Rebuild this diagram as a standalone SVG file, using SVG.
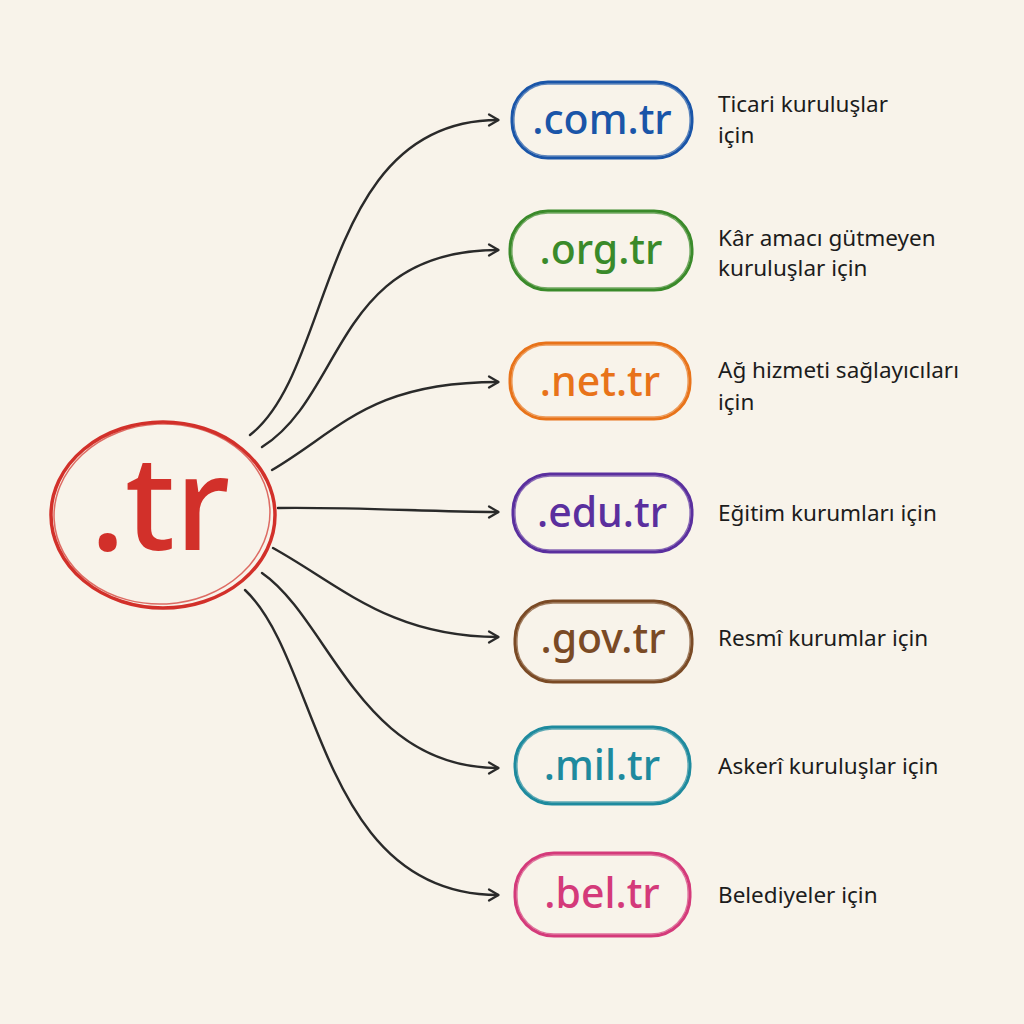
<svg xmlns="http://www.w3.org/2000/svg" width="1024" height="1024" viewBox="0 0 1024 1024">
<defs>
<marker id="arr" markerWidth="14" markerHeight="14" refX="11" refY="7" orient="auto" markerUnits="userSpaceOnUse">
<path d="M2,1.5 L11.5,7 L2,12.5" fill="none" stroke="#2a2a2a" stroke-width="2.2" stroke-linecap="round" stroke-linejoin="round"/>
</marker>
<style>
.conn{fill:none;stroke:#2a2a2a;stroke-width:2.4;stroke-linecap:round;marker-end:url(#arr)}
.pill{fill:none;stroke-width:3}
.pill2{fill:none;stroke-width:1.3;opacity:0.7}
.lbl{font-family:"Noto Sans","Open Sans",sans-serif;font-size:41px;font-weight:500;text-anchor:middle}
.desc{font-family:"Noto Sans","Open Sans",sans-serif;font-size:22.5px;fill:#1c1c1c}
</style>
</defs>
<rect width="1024" height="1024" fill="#f8f3ea"/>

<g id="connectors">
<path class="conn" d="M250,435 C335,370 320,120 498,120"/>
<path class="conn" d="M262,447 C345,395 335,250 498,250"/>
<path class="conn" d="M272,470 C340,430 370,382 498,382"/>
<path class="conn" d="M278,508 C360,507 430,512 498,512"/>
<path class="conn" d="M273,548 C340,585 390,637 498,637"/>
<path class="conn" d="M262,573 C330,620 360,768 498,768"/>
<path class="conn" d="M245,590 C320,660 320,895 498,895"/>
</g>

<g id="node-tr">
<ellipse cx="163" cy="515" rx="112" ry="93" fill="none" stroke="#d2302a" stroke-width="3.5"/>
<ellipse cx="162" cy="514" rx="108" ry="90" fill="none" stroke="#d2302a" stroke-width="1.5" opacity="0.7" transform="rotate(-3 162 514)"/>
<text x="160" y="550" font-family="Noto Sans, Open Sans, sans-serif" font-size="130" font-weight="500" fill="#d2302a" text-anchor="middle">.tr</text>
</g>

<g id="node-com">
<rect class="pill" x="512" y="82" width="180" height="76" rx="36" stroke="#1a55a8"/>
<rect class="pill2" x="514" y="84" width="176" height="72" rx="34" stroke="#1a55a8"/>
<text class="lbl" x="602" y="134" fill="#1a55a8">.com.tr</text>
<text class="desc" x="718" y="112">Ticari kuruluşlar</text>
<text class="desc" x="718" y="143">için</text>
</g>

<g id="node-org">
<rect class="pill" x="510" y="211" width="182" height="79" rx="38" stroke="#3a8a2a"/>
<rect class="pill2" x="512" y="213" width="178" height="75" rx="36" stroke="#3a8a2a"/>
<text class="lbl" x="601" y="264" fill="#3a8a2a">.org.tr</text>
<text class="desc" x="718" y="246">Kâr amacı gütmeyen</text>
<text class="desc" x="718" y="276">kuruluşlar için</text>
</g>

<g id="node-net">
<rect class="pill" x="510" y="343" width="180" height="76" rx="36" stroke="#e8731a"/>
<rect class="pill2" x="512" y="345" width="176" height="72" rx="34" stroke="#e8731a"/>
<text class="lbl" x="600" y="396" fill="#e8731a">.net.tr</text>
<text class="desc" x="718" y="378">Ağ hizmeti sağlayıcıları</text>
<text class="desc" x="718" y="410">için</text>
</g>

<g id="node-edu">
<rect class="pill" x="513" y="474" width="179" height="78" rx="37" stroke="#5a2f9e"/>
<rect class="pill2" x="515" y="476" width="175" height="74" rx="35" stroke="#5a2f9e"/>
<text class="lbl" x="602" y="527" fill="#5a2f9e">.edu.tr</text>
<text class="desc" x="718" y="521">Eğitim kurumları için</text>
</g>

<g id="node-gov">
<rect class="pill" x="515" y="601" width="177" height="81" rx="38" stroke="#7a4a25"/>
<rect class="pill2" x="517" y="603" width="173" height="77" rx="36" stroke="#7a4a25"/>
<text class="lbl" x="603" y="653" fill="#7a4a25">.gov.tr</text>
<text class="desc" x="718" y="646">Resmî kurumlar için</text>
</g>

<g id="node-mil">
<rect class="pill" x="515" y="727" width="175" height="77" rx="37" stroke="#1e8a9e"/>
<rect class="pill2" x="517" y="729" width="171" height="73" rx="35" stroke="#1e8a9e"/>
<text class="lbl" x="602" y="780" fill="#1e8a9e">.mil.tr</text>
<text class="desc" x="718" y="774">Askerî kuruluşlar için</text>
</g>

<g id="node-bel">
<rect class="pill" x="515" y="853" width="175" height="83" rx="39" stroke="#d43a7a"/>
<rect class="pill2" x="517" y="855" width="171" height="79" rx="37" stroke="#d43a7a"/>
<text class="lbl" x="602" y="908" fill="#d43a7a">.bel.tr</text>
<text class="desc" x="718" y="903">Belediyeler için</text>
</g>
</svg>
